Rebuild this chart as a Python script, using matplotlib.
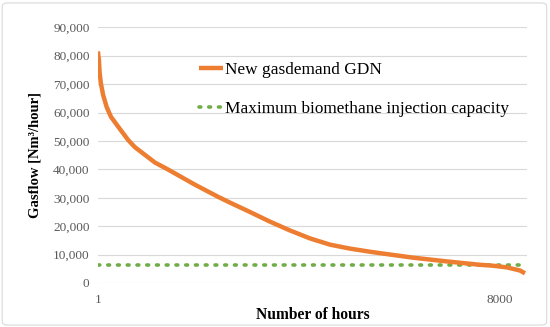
import matplotlib
matplotlib.use("Agg")
import matplotlib.pyplot as plt
from matplotlib.patches import FancyBboxPatch

# data (duration curve, hours sorted by demand)
hours = [1, 10, 21, 35, 61, 106, 174, 260, 405, 604, 737, 1135, 1400, 1931,
         2395, 2627, 3025, 3423, 3821, 4219, 4617, 5015, 5413, 5612, 6275,
         6939, 7602, 7850, 8133, 8397, 8497]
gas_demand = [81500, 80000, 78700, 74000, 70200, 66100, 62000, 58500, 55000,
              50300, 47800, 42400, 39900, 34600, 30300, 28300, 25000, 21600,
              18500, 15700, 13500, 12100, 11000, 10500, 8900, 7600, 6400,
              6100, 5500, 4400, 3400]
capacity_hours = [1, 8520]
capacity = [6200, 6200]

y_ticks = [0, 10000, 20000, 30000, 40000, 50000, 60000, 70000, 80000, 90000]
x_ticks = [1, 8000]

ORANGE = "#ED7D31"
GREEN = "#70AD47"
GRID = "#D9D9D9"
TXT = "#595959"

plt.rcParams['font.family'] = ['Liberation Serif', 'DejaVu Serif']

fig = plt.figure(figsize=(5.5, 3.27), dpi=100)
fig.patches.append(FancyBboxPatch((0.004, 0.006), 0.99, 0.985,
                                  boxstyle="round,pad=0,rounding_size=0.01",
                                  transform=fig.transFigure, facecolor="white",
                                  edgecolor=GRID, lw=0.8, zorder=-1))
ax = fig.add_axes([0.178, 0.1346, 0.78, 0.782])
ax.set_facecolor("none")

ax.plot(capacity_hours, capacity, color=GREEN, lw=2.6, ls=(0, (0.5, 2.2)),
        dash_capstyle='round', label="Maximum biomethane injection capacity", zorder=3)
ax.plot(hours, gas_demand, color=ORANGE, lw=3.2, solid_capstyle='butt',
        solid_joinstyle='round', label="New gasdemand GDN", zorder=4)

ax.set_xlim(1, 8535)
ax.set_ylim(0, 90000)
ax.set_yticks(y_ticks)
ax.set_yticklabels([f"{v:,}" for v in y_ticks], fontsize=9.5, color=TXT)
ax.set_xticks(x_ticks)
ax.set_xticklabels([str(v) for v in x_ticks], fontsize=9.5, color=TXT)
ax.tick_params(length=0, pad=8)
ax.tick_params(axis='y', pad=6)
ax.grid(axis='y', color=GRID, lw=0.8)
ax.set_axisbelow(True)
for s in ax.spines.values():
    s.set_visible(False)

ax.set_ylabel("Gasflow [Nm³/hour]", fontsize=10.5, fontweight='bold', labelpad=8)
ax.set_xlabel("Number of hours", fontsize=11.2, fontweight='bold', labelpad=1)

h, l = ax.get_legend_handles_labels()
ax.legend(h[::-1], l[::-1], loc='upper left', bbox_to_anchor=(0.22, 0.89),
          frameon=False, fontsize=12.4, handlelength=1.4, handletextpad=0.12,
          labelspacing=1.3, borderaxespad=0)

fig.savefig("out.png", dpi=100)
